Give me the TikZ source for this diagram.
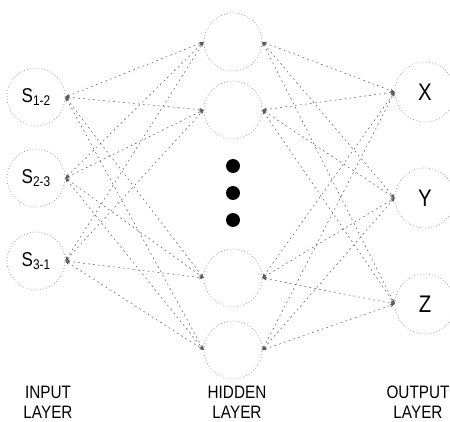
\documentclass[tikz,border=0pt]{standalone}
\usepackage{fontspec}
\setmainfont{Liberation Sans}[FakeStretch=0.85]
\usetikzlibrary{arrows.meta}
\newcommand{\unitsub}[2]{#1\raisebox{-0.35ex}{\fontsize{14}{14}\selectfont #2}}
\begin{document}
\begin{tikzpicture}[x=1pt,y=-1pt,
  unit/.style={circle, draw=black!40, dash pattern=on 0.8pt off 2.2pt, line width=0.7pt,
    minimum size=58pt, inner sep=0pt},
  inunit/.style={unit, font=\fontsize{20}{20}\selectfont},
  outunit/.style={unit, minimum size=60pt, font=\fontsize{24}{24}\selectfont},
  link/.style={draw=black!65, line width=0.5pt, dash pattern=on 1.8pt off 3.2pt,
    {Stealth[length=4.5pt,width=3.5pt]}-{Stealth[length=4.5pt,width=3.5pt]}},
  ellipsisdot/.style={circle, fill=black, minimum size=14pt, inner sep=0pt},
  layerlabel/.style={align=center, font=\fontsize{18}{20}\selectfont}
]
\useasboundingbox (0,0) rectangle (450,422);

% input layer
\node[inunit] (i1) at (36,97)  {\unitsub{S}{1-2}};
\node[inunit] (i2) at (36,178) {\unitsub{S}{2-3}};
\node[inunit] (i3) at (36,261) {\unitsub{S}{3-1}};

% hidden layer
\node[unit] (h1) at (233,42)  {};
\node[unit] (h2) at (233,110) {};
\node[unit] (h3) at (233,278) {};
\node[unit] (h4) at (233,350) {};
\node[ellipsisdot] (d1) at (233,166) {};
\node[ellipsisdot] (d2) at (233,193) {};
\node[ellipsisdot] (d3) at (233,220) {};

% output layer
\node[outunit] (o1) at (425,92)  {X};
\node[outunit] (o2) at (425,198) {Y};
\node[outunit] (o3) at (425,304) {Z};

% weighted connections
\foreach \a in {i1,i2,i3}
  \foreach \b in {h1,h2,h3,h4}
    \draw[link] (\a.east) -- (\b.west);
\foreach \a in {h1,h2,h3,h4}
  \foreach \b in {o1,o2,o3}
    \draw[link] (\a.east) -- (\b.west);

% layer captions
\node[layerlabel] (li) at (48,402)  {INPUT\\LAYER};
\node[layerlabel] (lh) at (237,402) {HIDDEN\\LAYER};
\node[layerlabel] (lo) at (418,402) {OUTPUT\\LAYER};
\end{tikzpicture}
\end{document}
